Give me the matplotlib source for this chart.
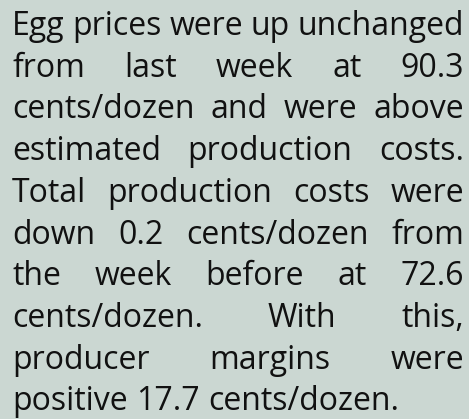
import matplotlib
matplotlib.use("Agg")
import matplotlib.pyplot as plt

# Lines of the text block (justified, last line left aligned)
lines = [
    "Egg prices were up unchanged",
    "from last week at 90.3",
    "cents/dozen and were above",
    "estimated production costs.",
    "Total production costs were",
    "down 0.2 cents/dozen from",
    "the week before at 72.6",
    "cents/dozen. With this,",
    "producer margins were",
    "positive 17.7 cents/dozen.",
]

W, H = 469, 419
BG = "#cbd7d2"
TXT = "#111111"
left, right = 12, 464
first_base = 35
line_step = 41.7
fsize = 23

fig = plt.figure(figsize=(W / 100, H / 100), dpi=100)
fig.patch.set_facecolor(BG)
renderer = fig.canvas.get_renderer()

for i, line in enumerate(lines):
    words = line.split()
    y = 1 - (first_base + i * line_step) / H
    texts = [fig.text(0, y, w, fontsize=fsize, family="Open Sans", color=TXT,
                      va="baseline", ha="left") for w in words]
    widths = [t.get_window_extent(renderer).width for t in texts]
    if i < len(lines) - 1 and len(words) > 1:
        gap = (right - left - sum(widths)) / (len(words) - 1)
    else:
        gap = fsize * 0.36
    x = left
    for t, wd in zip(texts, widths):
        t.set_x(x / W)
        x += wd + gap

fig.savefig("out.png", dpi=100, facecolor=BG)
